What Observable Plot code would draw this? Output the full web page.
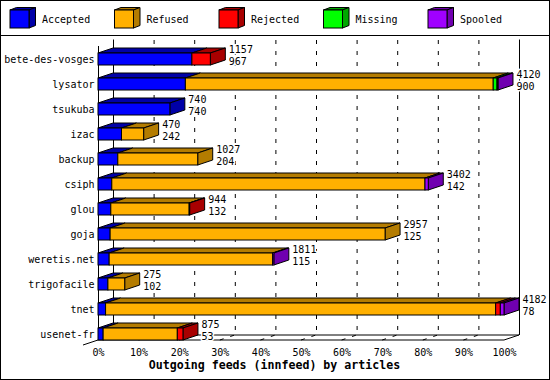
<!DOCTYPE html>
<html><head><meta charset="utf-8">
<script src="https://cdn.jsdelivr.net/npm/d3@7"></script>
<script src="https://cdn.jsdelivr.net/npm/@observablehq/plot@0.6"></script>
<style>
html,body{margin:0;padding:0;background:#fff;}
#wrap{position:relative;width:550px;height:380px;border:1px solid #000;box-sizing:border-box;background:#fff;overflow:hidden;font-family:'DejaVu Sans Mono',monospace;}
#legend{display:block;}
#sep{height:1px;background:#000;}
#chart svg{display:block;}
</style></head><body>
<div id="wrap"><svg id="legend" width="548" height="34"></svg><div id="sep"></div><div id="chart"></div></div>
<script>
// ---- data ----
const hosts = ["bete-des-vosges","lysator","tsukuba","izac","backup","csiph","glou","goja","weretis.net","trigofacile","tnet","usenet-fr"];
const totals   = [1157, 4120, 740, 470, 1027, 3402, 944, 2957, 1811, 275, 4182, 875];
const accepted = [967, 900, 740, 242, 204, 142, 132, 125, 115, 102, 78, 53];
const refused  = [0, 3171, 0, 228, 823, 3226, 807, 2832, 1684, 173, 4018, 764];
const rejected = [190, 0, 0, 0, 0, 0, 5, 0, 0, 0, 48, 58];
const missing  = [0, 39, 0, 0, 0, 0, 0, 0, 0, 0, 0, 0];
const spooled  = [0, 10, 0, 0, 0, 34, 0, 0, 12, 0, 38, 0];
const statuses = ["Accepted","Refused","Rejected","Missing","Spooled"];
const frontColors = ["#0000ff","#ffb000","#ff0000","#00ff00","#a000ff"];
const darkColors  = ["#0000a8","#b47c00","#a80000","#00a800","#7000b0"];
const percentTicks = [0,10,20,30,40,50,60,70,80,90,100];
const title = "Outgoing feeds (innfeed) by articles";

// ---- 3D depth (pixels) ----
const DX = 15, DY = 5;

const series = [accepted, refused, rejected, missing, spooled];
const maxTotal = d3.max(totals);
const segments = [];
hosts.forEach((h, i) => {
  let acc = 0, last = null;
  series.forEach((s, k) => {
    const v = s[i];
    if (v > 0) { last = {host: h, status: statuses[k], k, x1: acc, x2: acc + v, last: false}; segments.push(last); acc += v; }
  });
  if (last) last.last = true;
});
const tickValues = percentTicks.map(p => p / 100 * maxTotal);

function renderMark(draw) {
  return function(...args) {
    const scales = args.find(a => a && typeof a === "object" && !Array.isArray(a) && typeof a.x === "function");
    const dims = args.find(a => a && typeof a === "object" && "marginLeft" in a);
    const g = d3.create("svg:g");
    draw(g, scales, dims);
    return g.node();
  };
}
function line(g, x1, y1, x2, y2, dash) {
  const l = g.append("line").attr("x1", x1).attr("y1", y1).attr("x2", x2).attr("y2", y2)
    .attr("stroke", "black").attr("stroke-width", 1);
  if (dash) l.attr("stroke-dasharray", dash);
}

const floorMark = renderMark((g, s, d) => {
  const fy = d.height - d.marginBottom;
  const x0 = s.x(0), xm = s.x(maxTotal);
  tickValues.slice(1, -1).forEach(t => { const xt = s.x(t); line(g, xt, fy, xt + DX, fy - DY, "4,7"); });
  line(g, x0 + DX, fy - DY, xm + DX, fy - DY);
  line(g, x0, fy, xm, fy);
  line(g, x0 - DX, fy + DY, x0, fy);
  line(g, xm, fy, xm + DX, fy - DY);
});

const facesMark = renderMark((g, s) => {
  const bw = s.y.bandwidth ? s.y.bandwidth() : 12;
  segments.forEach(seg => {
    const y0 = s.y(seg.host), a = s.x(seg.x1), b = s.x(seg.x2);
    g.append("polygon")
      .attr("points", [[a, y0], [b, y0], [b + DX, y0 - DY], [a + DX, y0 - DY]].join(" "))
      .attr("fill", darkColors[seg.k]).attr("stroke", "black").attr("stroke-width", 1);
    if (seg.last) {
      g.append("polygon")
        .attr("points", [[b, y0], [b + DX, y0 - DY], [b + DX, y0 + bw - DY], [b, y0 + bw]].join(" "))
        .attr("fill", darkColors[seg.k]).attr("stroke", "black").attr("stroke-width", 1);
    }
  });
});

const valueText = (field, dy, halo) => Plot.text(hosts, {
  x: (d, i) => totals[i], y: d => d, text: (d, i) => String(field[i]),
  dx: DX + 3, dy, textAnchor: "start",
  ...(halo ? {fill: "white", stroke: "white", strokeWidth: 3} : {fill: "black"})
});

const chart = Plot.plot({
  width: 548, height: 343,
  marginLeft: 97, marginRight: 45, marginTop: 17.3, marginBottom: 39,
  style: {fontFamily: "'DejaVu Sans Mono', monospace", fontSize: "10px", background: "white", color: "black"},
  x: {domain: [0, maxTotal], ticks: tickValues, tickFormat: d => Math.round(d / maxTotal * 100) + "%", tickSize: 0, tickPadding: 8, label: null},
  y: {domain: hosts, paddingInner: 0.532, paddingOuter: 0, tickSize: 0, tickPadding: 4, label: null},
  color: {domain: statuses, range: frontColors},
  marks: [
    Plot.ruleX(tickValues.slice(1, -1), {dx: DX, dy: -DY, insetTop: -8.3, stroke: "black", strokeDasharray: "4,7"}),
    Plot.ruleX([0, maxTotal], {dx: DX, dy: -DY, insetTop: -8.8, stroke: "black"}),
    floorMark,
    Plot.ruleX([0], {insetTop: -7.3, stroke: "black"}),
    facesMark,
    Plot.barX(segments, {x1: "x1", x2: "x2", y: "host", fill: "status", stroke: "black", strokeWidth: 1}),
    valueText(totals, -9.5, true),
    valueText(accepted, 2, true),
    valueText(totals, -9.5, false),
    valueText(accepted, 2, false),
    Plot.text([title], {text: d => d, frameAnchor: "bottom", dx: -27, dy: 28.5, fontWeight: "bold", fontSize: 11.6})
  ]
});
document.getElementById("chart").appendChild(chart);

// ---- legend (3D cubes) ----
const lg = d3.select("#legend");
const ldx = 6.5, ldy = 2.5, cw = 19, ch = 18;
statuses.forEach((st, i) => {
  const x = 9 + i * 104.5, y = 9;
  const item = lg.append("g");
  item.append("polygon").attr("points", [[x, y], [x + cw, y], [x + cw + ldx, y - ldy], [x + ldx, y - ldy]].join(" "))
    .attr("fill", darkColors[i]).attr("stroke", "black");
  item.append("polygon").attr("points", [[x + cw, y], [x + cw + ldx, y - ldy], [x + cw + ldx, y + ch - ldy], [x + cw, y + ch]].join(" "))
    .attr("fill", darkColors[i]).attr("stroke", "black");
  item.append("rect").attr("x", x).attr("y", y).attr("width", cw).attr("height", ch)
    .attr("fill", frontColors[i]).attr("stroke", "black");
  item.append("text").attr("x", x + 32).attr("y", y + ch / 2).attr("dy", "0.35em")
    .attr("font-family", "'DejaVu Sans Mono', monospace").attr("font-size", 10).text(st);
});
</script>
</body></html>
